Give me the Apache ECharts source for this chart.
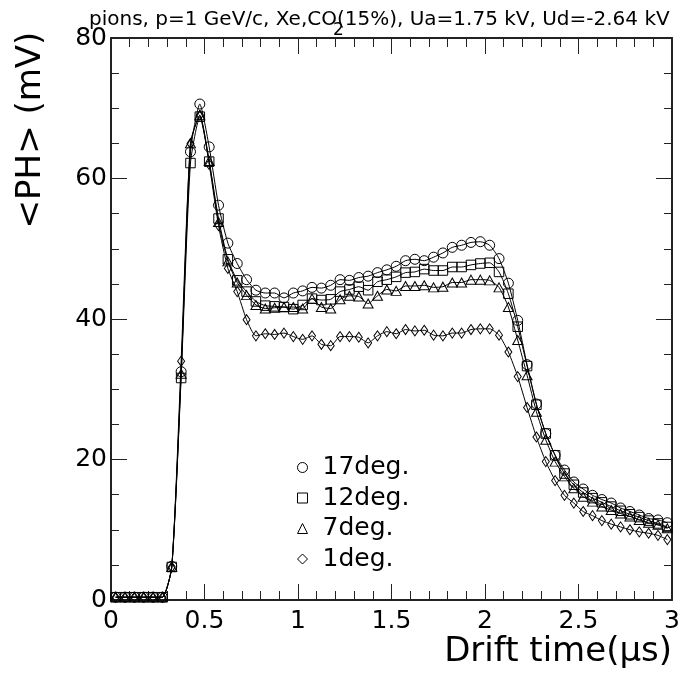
<!DOCTYPE html>
<html><head><meta charset="utf-8">
<script src="https://cdn.jsdelivr.net/npm/echarts@6/dist/echarts.min.js"></script>
<style>html,body{margin:0;padding:0;background:#fff}#c{width:688px;height:684px}</style>
</head><body><div id="c"></div>
<script>
const times = [0.025,0.075,0.125,0.175,0.225,0.275,0.325,0.375,0.425,0.475,
  0.525,0.575,0.625,0.675,0.725,0.775,0.825,0.875,0.925,0.975,
  1.025,1.075,1.125,1.175,1.225,1.275,1.325,1.375,1.425,1.475,
  1.525,1.575,1.625,1.675,1.725,1.775,1.825,1.875,1.925,1.975,
  2.025,2.075,2.125,2.175,2.225,2.275,2.325,2.375,2.425,2.475,
  2.525,2.575,2.625,2.675,2.725,2.775,2.825,2.875,2.925,2.975];
const deg17 = [0.4,0.4,0.4,0.4,0.4,0.4,4.8,32.5,63.8,70.6,
  64.5,56.2,50.8,47.9,45.6,44.1,43.7,43.7,43.0,43.7,
  44.0,44.5,44.4,44.8,45.6,45.5,45.9,46.1,46.6,47.0,
  47.5,48.3,48.5,48.3,48.8,49.4,50.2,50.5,50.9,51.0,
  50.5,48.6,45.1,39.8,33.5,27.9,23.7,20.6,18.5,16.8,
  15.8,14.9,14.3,13.8,13.1,12.6,12.1,11.6,11.4,11.0];
const deg12 = [0.4,0.4,0.4,0.4,0.4,0.4,4.7,31.6,62.2,68.8,
  62.4,54.3,48.5,45.5,43.9,42.5,41.9,41.8,41.7,41.4,
  42.0,42.9,42.7,42.8,43.9,44.2,44.6,44.1,45.3,45.6,
  46.0,46.6,46.7,47.1,46.9,46.9,47.4,47.4,47.7,47.9,
  48.0,46.7,43.6,38.9,33.3,27.8,23.7,20.6,18.0,16.4,
  15.3,14.5,13.9,13.3,12.7,12.2,11.8,11.3,10.9,10.4];
const deg7 = [0.4,0.4,0.4,0.4,0.4,0.4,4.7,32.2,65.0,69.0,
  62.5,53.8,48.2,45.2,43.4,42.0,41.5,41.6,41.7,41.7,
  41.5,42.9,41.7,41.5,42.8,43.3,43.2,42.2,43.3,44.2,
  44.0,44.7,44.7,44.8,44.5,44.6,45.2,45.2,45.6,45.6,
  45.5,44.5,41.7,37.0,32.0,26.8,22.8,19.7,17.6,15.9,
  14.7,14.0,13.3,12.8,12.3,11.9,11.4,11.0,10.7,10.2];
const deg1 = [0.4,0.4,0.4,0.4,0.4,0.4,4.7,34.0,65.0,69.0,
  62.0,53.3,47.2,43.9,39.9,37.6,37.9,37.8,38.0,37.5,
  37.1,37.6,36.4,36.2,37.5,37.5,37.4,36.6,37.6,38.2,
  37.9,38.5,38.3,38.4,37.7,37.6,38.0,38.0,38.5,38.6,
  38.6,37.7,35.3,31.8,27.4,23.2,19.7,17.0,14.9,13.8,
  12.6,12.0,11.3,10.8,10.4,10.0,9.7,9.5,9.2,8.6];
const seriesNames = ['17deg.','12deg.','7deg.','1deg.'];
const titleParts = ['pions, p=1 GeV/c, Xe,CO', '2', '(15%), Ua=1.75 kV, Ud=-2.64 kV'];
const xTitle = 'Drift time(\u03bcs)';
const yTitle = '<PH> (mV)';

const FONT = "'DejaVu Sans'";
const ctx = document.createElement('canvas').getContext('2d');
function tw(t, f){ ctx.font = f; return ctx.measureText(t).width; }
const titleFont = '20px ' + FONT;
const w1 = tw(titleParts[0], titleFont);

const symbols = ['circle','rect','triangle','diamond'];
const sizes = [10, 9.5, [10,9], [7,10]];
const allData = [deg17, deg12, deg7, deg1];

const markStyle = {color:'rgba(0,0,0,0)', borderColor:'#000', borderWidth:1};
const axisLineStyle = {color:'#222', width:2};
const tickStyle = {color:'#222', width:1};

function xAx(pos, showLabel){
  return {type:'value', min:0, max:3, interval:0.5, position:pos,
    axisLine:{show:true, onZero:false, lineStyle:axisLineStyle},
    axisTick:{show:true, inside:true, length:16, lineStyle:tickStyle},
    minorTick:{show:true, splitNumber:5, length:9, lineStyle:tickStyle},
    splitLine:{show:false}, minorSplitLine:{show:false},
    axisLabel:{show:showLabel, margin:9, fontFamily:'DejaVu Sans', fontSize:25, color:'#000',
      showMinLabel:true, showMaxLabel:true}};
}
function yAx(pos, showLabel){
  return {type:'value', min:0, max:80, interval:20, position:pos,
    axisLine:{show:true, onZero:false, lineStyle:axisLineStyle},
    axisTick:{show:true, inside:true, length:16, lineStyle:tickStyle},
    minorTick:{show:true, splitNumber:4, length:8, lineStyle:tickStyle},
    splitLine:{show:false}, minorSplitLine:{show:false},
    axisLabel:{show:showLabel, margin:4, fontFamily:'DejaVu Sans', fontSize:25, color:'#000',
      showMinLabel:true, showMaxLabel:true}};
}

const chart = echarts.init(document.getElementById('c'), null, {renderer:'canvas'});
chart.setOption({
  animation:false,
  backgroundColor:'#fff',
  grid:{left:111, right:16, top:38, bottom:84},
  xAxis:[xAx('bottom', true), xAx('top', false)],
  yAxis:[yAx('left', true), yAx('right', false)],
  legend:{orient:'vertical', left:292, top:450, itemWidth:10, itemHeight:10, itemGap:5.5,
    selectedMode:false,
    textStyle:{fontFamily:'DejaVu Sans', fontSize:25, lineHeight:25, color:'#000', padding:[0,0,0,10]},
    itemStyle:markStyle,
    data: seriesNames.map((n,i)=>({name:n, icon:symbols[i]}))},
  graphic:[
    {type:'text', x:89, y:20, style:{text:titleParts[0], font:titleFont, fill:'#000', align:'left', verticalAlign:'middle'}},
    {type:'text', x:89 + w1 - 4, y:31, style:{text:titleParts[1], font:'17px ' + FONT, fill:'#000', align:'left', verticalAlign:'middle'}},
    {type:'text', x:89 + w1, y:20, style:{text:titleParts[2], font:titleFont, fill:'#000', align:'left', verticalAlign:'middle'}},
    {type:'text', x:672, y:652, style:{text:xTitle, font:'34px ' + FONT, fill:'#000', align:'right', verticalAlign:'middle'}},
    {type:'text', x:31, y:130, rotation:Math.PI/2, style:{text:yTitle, font:'34px ' + FONT, fill:'#000', align:'center', verticalAlign:'middle'}}
  ],
  series: seriesNames.map((n,i)=>({
    name:n, type:'line', xAxisIndex:0, yAxisIndex:0,
    data: times.map((t,j)=>[t, allData[i][j]]),
    symbol:symbols[i], symbolSize:sizes[i], showAllSymbol:true,
    smooth:0.2,
    lineStyle:{color:'#000', width:1},
    itemStyle:markStyle,
    emphasis:{disabled:true}
  }))
});
</script></body></html>
